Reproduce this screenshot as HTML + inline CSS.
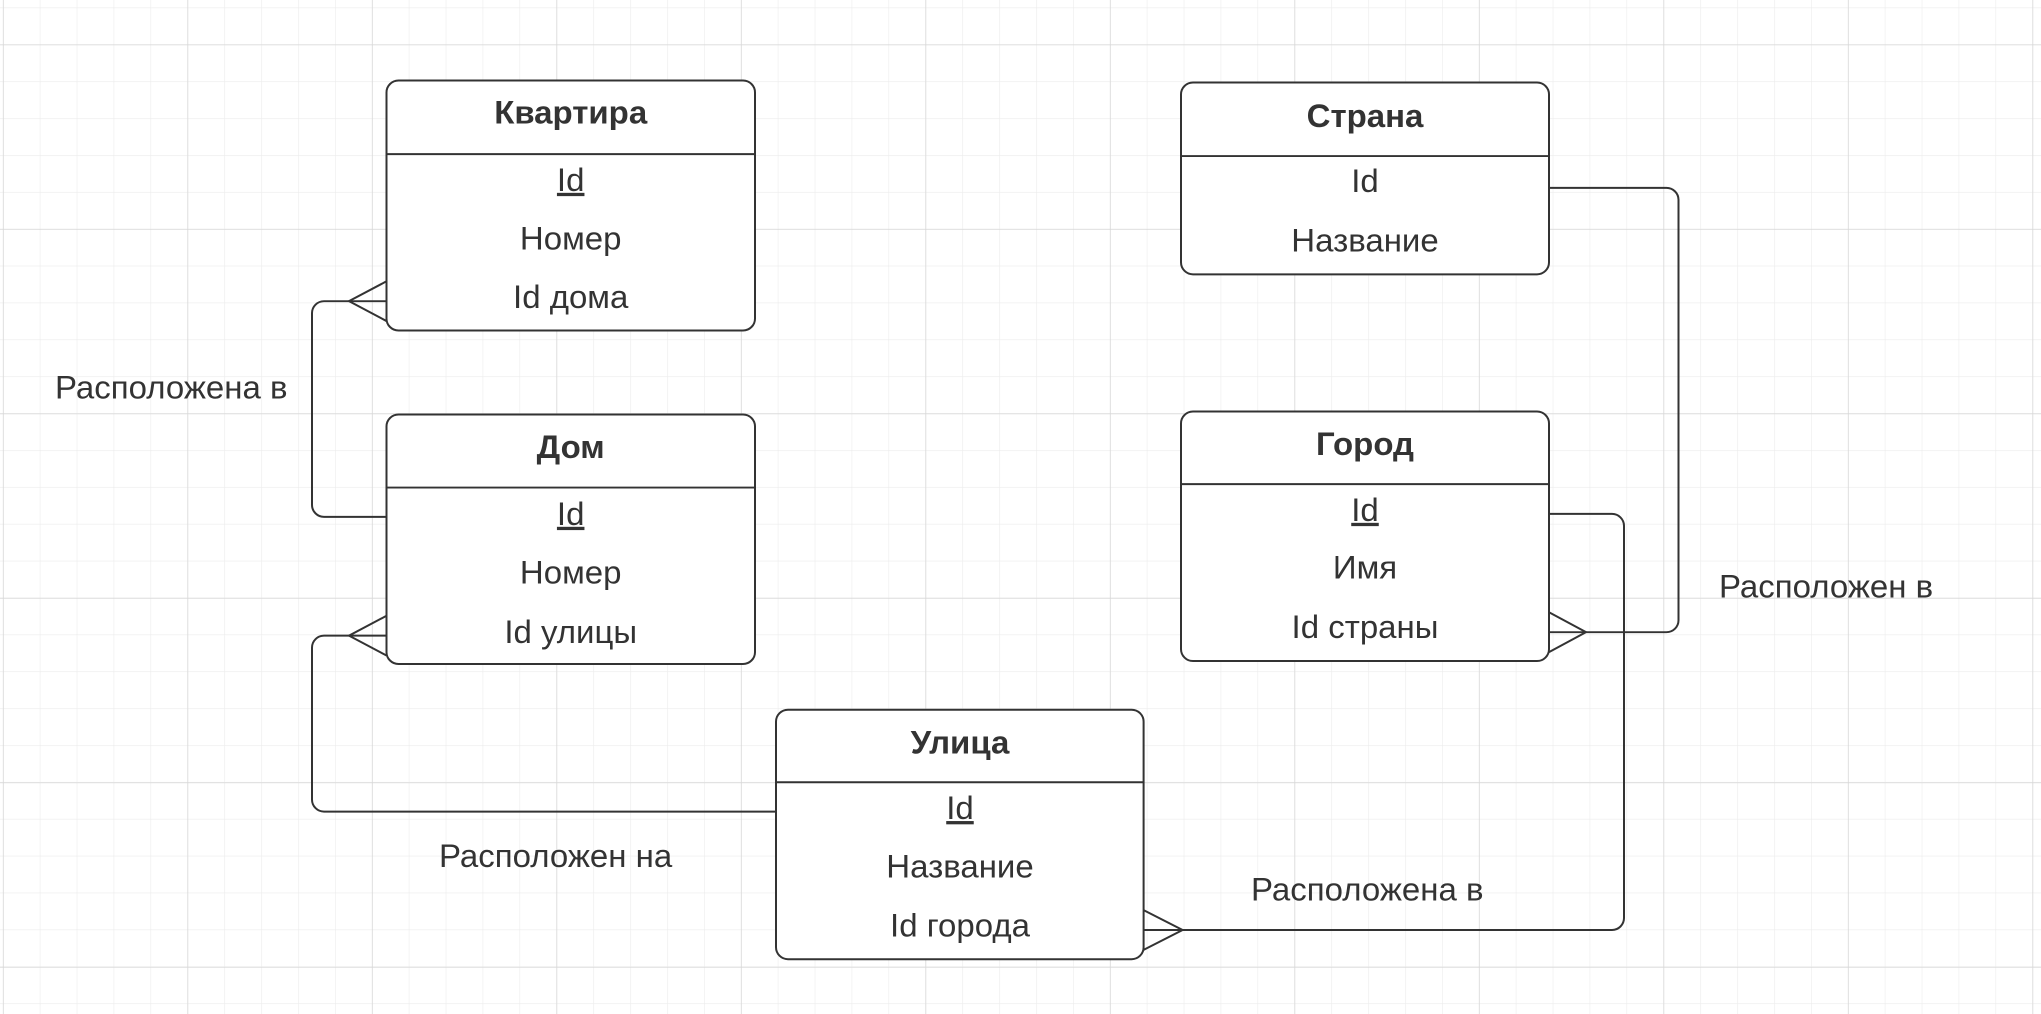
<!DOCTYPE html>
<html><head><meta charset="utf-8"><style>
html,body{margin:0;padding:0;background:#fff;}
svg{display:block;}
text{font-family:"Liberation Sans","DejaVu Sans",sans-serif;fill:#333;font-size:33px;}
.b{font-weight:bold;}
</style></head><body>
<svg width="2041" height="1014" viewBox="0 0 2041 1014" xmlns="http://www.w3.org/2000/svg">
<defs>
<pattern id="minor" x="2.9" y="7.6" width="36.9" height="37.1" patternUnits="userSpaceOnUse">
<path d="M0 0V37.1M0 0H36.9" stroke="#ececec" stroke-width="1.2" fill="none"/>
</pattern>
<pattern id="major" x="2.9" y="44.7" width="184.5" height="185.6" patternUnits="userSpaceOnUse">
<path d="M0 0V185.6M0 0H184.5" stroke="#d8d8d8" stroke-width="1.5" fill="none"/>
</pattern>
</defs>
<rect width="2041" height="1014" fill="#fff"/>
<g transform="scale(1,0.994)">
<rect width="2041" height="1030" fill="url(#minor)"/>
<rect width="2041" height="1030" fill="url(#major)"/>

<g fill="none" stroke="#333" stroke-width="2">
<path d="M386.5 520H324a12 12 0 0 1-12-12V315a12 12 0 0 1 12-12H386.5"/>
<path d="M386.5 283L349 303L386.5 323"/>
<path d="M776 816.5H324a12 12 0 0 1-12-12V651.5a12 12 0 0 1 12-12H386.5"/>
<path d="M386.5 619.5L349 639.5L386.5 659.5"/>
<path d="M1549 189H1666.5a12 12 0 0 1 12 12V624a12 12 0 0 1-12 12H1549"/>
<path d="M1549 616L1586 636L1549 656"/>
<path d="M1549 517H1612a12 12 0 0 1 12 12V923.6a12 12 0 0 1-12 12H1143.6"/>
<path d="M1143.6 915.6L1182.6 935.6L1143.6 955.6"/>
</g>
<g fill="#fff" stroke="#333" stroke-width="2">
<rect x="386.5" y="81" width="368.5" height="251.5" rx="12"/>
<rect x="386.5" y="417" width="368.5" height="251" rx="12"/>
<rect x="776" y="714" width="367.6" height="251" rx="12"/>
<rect x="1181" y="83" width="368" height="193" rx="12"/>
<rect x="1181" y="414" width="368" height="251" rx="12"/>
</g>
<g stroke="#333" stroke-width="2">
<line x1="386.5" y1="155" x2="755" y2="155"/>
<line x1="386.5" y1="490.5" x2="755" y2="490.5"/>
<line x1="776" y1="787" x2="1143.6" y2="787"/>
<line x1="1181" y1="157" x2="1549" y2="157"/>
<line x1="1181" y1="487" x2="1549" y2="487"/>
</g>
<g text-anchor="middle">
<text class="b" x="570.7" y="124">Квартира</text>
<text x="570.7" y="192" text-decoration="underline">Id</text>
<text x="570.7" y="251">Номер</text>
<text x="570.7" y="310">Id дома</text>

<text class="b" x="570.7" y="461">Дом</text>
<text x="570.7" y="528" text-decoration="underline">Id</text>
<text x="570.7" y="587">Номер</text>
<text x="570.7" y="647">Id улицы</text>

<text class="b" x="960" y="758">Улица</text>
<text x="960" y="824" text-decoration="underline">Id</text>
<text x="960" y="883">Название</text>
<text x="960" y="942">Id города</text>

<text class="b" x="1365" y="128">Страна</text>
<text x="1365" y="193">Id</text>
<text x="1365" y="253">Название</text>

<text class="b" x="1365" y="458">Город</text>
<text x="1365" y="524" text-decoration="underline">Id</text>
<text x="1365" y="582">Имя</text>
<text x="1365" y="642">Id страны</text>
</g>
<text x="55" y="401">Расположена в</text>
<text x="439" y="872">Расположен на</text>
<text x="1719" y="601">Расположен в</text>
<text x="1251" y="906">Расположена в</text>
</g>
</svg>
</body></html>
